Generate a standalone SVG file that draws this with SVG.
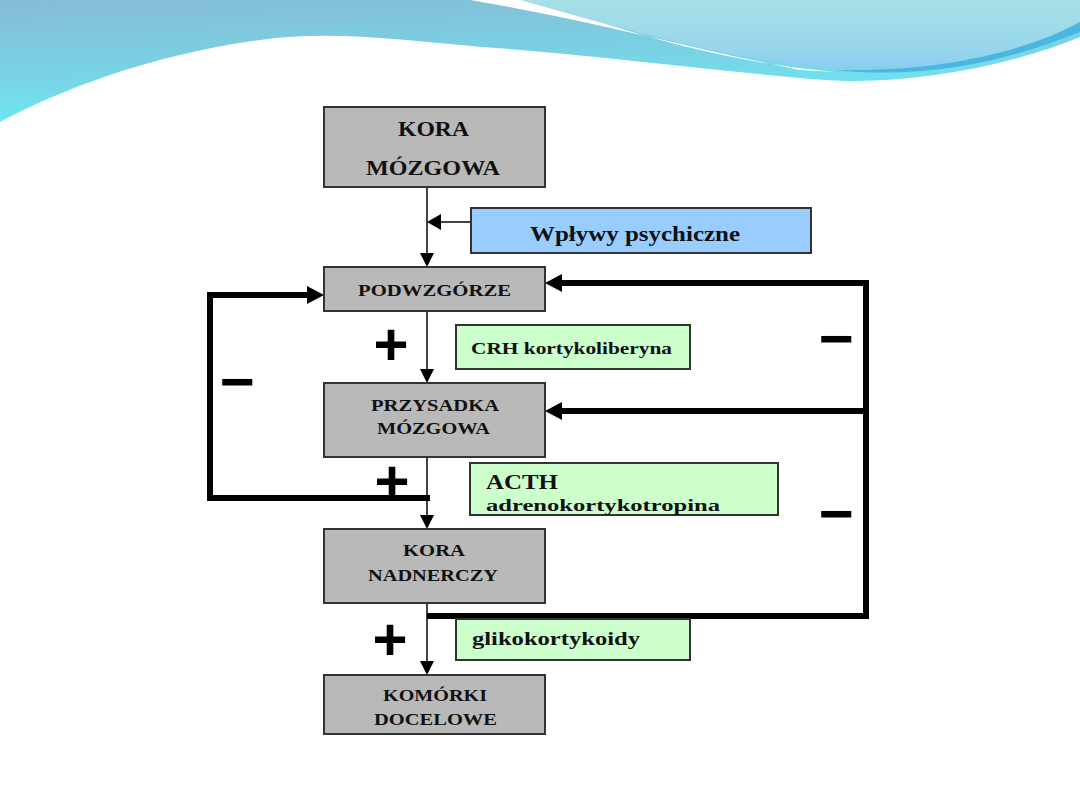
<svg xmlns="http://www.w3.org/2000/svg" width="1080" height="810" viewBox="0 0 1080 810">
<defs>
<linearGradient id="wave1" x1="0" y1="0" x2="0.3" y2="1">
<stop offset="0" stop-color="#86bcd6"/>
<stop offset="0.6" stop-color="#78d4e6"/>
<stop offset="1" stop-color="#6ceaf4"/>
</linearGradient>
<linearGradient id="wave2" x1="0" y1="0" x2="0" y2="1">
<stop offset="0" stop-color="#a6e0e6"/>
<stop offset="0.7" stop-color="#98d6ec"/>
<stop offset="1" stop-color="#88cdef"/>
</linearGradient>
<style>
.box{fill:#b9b9b9;stroke:#333;stroke-width:2}
.blue{fill:#99ccff;stroke:#333;stroke-width:2}
.green{fill:#ccffcc;stroke:#333;stroke-width:2}
.t{font-family:"Liberation Serif",serif;font-weight:bold;fill:#111}
.thin{stroke:#444;stroke-width:2;fill:none}
.thick{stroke:#000;stroke-width:6;fill:none}
.head{fill:#000}
.sym{font-family:"Liberation Sans",sans-serif;font-weight:bold;font-size:60px;fill:#000;text-anchor:middle}
</style>
</defs>
<rect width="1080" height="810" fill="#fff"/>
<g id="background">
<path d="M0,0 L1080,0 L1080,37 C1000,70 900,85 826,80 C720,72 600,55 482,47 C400,40 330,30 260,40 C150,55 60,90 0,122 Z" fill="url(#wave1)"/>
<path d="M470,0 L535,0 C620,30 720,62 835,72 L800,70 C690,48 580,18 470,0 Z" fill="#fff"/>
<path d="M520,0 L1080,0 L1080,22 C1020,55 930,72 835,70 C720,58 620,28 520,0 Z" fill="url(#wave2)"/>
<path d="M1080,22 C1020,55 930,72 835,70 C930,80 1010,60 1080,32 Z" fill="#4bb7e0"/>
</g>
<g id="connectors">
<line class="thin" x1="427" y1="187" x2="427" y2="256"/>
<polygon class="head" points="420,253 434,253 427,267"/>
<line class="thin" x1="471" y1="222" x2="438" y2="222"/>
<polygon class="head" points="427,222 441,214 441,230"/>
<line class="thin" x1="427" y1="311" x2="427" y2="372"/>
<polygon class="head" points="420,369 434,369 427,383"/>
<line class="thin" x1="427" y1="457" x2="427" y2="518"/>
<polygon class="head" points="420,515 434,515 427,529"/>
<line class="thin" x1="427" y1="603" x2="427" y2="664"/>
<polygon class="head" points="420,661 434,661 427,675"/>
<polyline class="thick" points="866,619 866,283 558,283"/>
<polygon class="head" points="545,283 562,274 562,292"/>
<line class="thick" x1="866" y1="411" x2="558" y2="411"/>
<polygon class="head" points="545,411 562,402 562,420"/>
<line class="thick" x1="427" y1="616" x2="869" y2="616"/>
<polyline class="thick" points="430,498 210,498 210,295 311,295"/>
<polygon class="head" points="324,295 307,286 307,304"/>
</g>
<g id="signs">
<text class="sym" x="391" y="365">+</text>
<text class="sym" x="392" y="502">+</text>
<text class="sym" x="390" y="660">+</text>
<text class="sym" x="237" y="402">−</text>
<text class="sym" x="836" y="359">−</text>
<text class="sym" x="836" y="534">−</text>
</g>
<g id="kora-mozgowa">
<rect class="box" x="324" y="107" width="221" height="80"/>
<text class="t" x="398" y="136" font-size="21" textLength="71" lengthAdjust="spacingAndGlyphs">KORA</text>
<text class="t" x="366" y="175" font-size="21" textLength="134" lengthAdjust="spacingAndGlyphs">MÓZGOWA</text>
</g>
<g id="wplywy">
<rect class="blue" x="471" y="208" width="340" height="45"/>
<text class="t" x="530" y="241" font-size="21" textLength="210" lengthAdjust="spacingAndGlyphs">Wpływy  psychiczne</text>
</g>
<g id="podwzgorze">
<rect class="box" x="324" y="267" width="221" height="44"/>
<text class="t" x="358" y="296" font-size="17" textLength="153" lengthAdjust="spacingAndGlyphs">PODWZGÓRZE</text>
</g>
<g id="crh">
<rect class="green" x="456" y="325" width="234" height="44"/>
<text class="t" x="471" y="354" font-size="17" textLength="201" lengthAdjust="spacingAndGlyphs">CRH  kortykoliberyna</text>
</g>
<g id="przysadka">
<rect class="box" x="324" y="383" width="221" height="74"/>
<text class="t" x="371" y="411" font-size="16" textLength="128" lengthAdjust="spacingAndGlyphs">PRZYSADKA</text>
<text class="t" x="377" y="434" font-size="16" textLength="113" lengthAdjust="spacingAndGlyphs">MÓZGOWA</text>
</g>
<g id="acth">
<rect class="green" x="470" y="463" width="308" height="52"/>
<text class="t" x="486" y="489" font-size="20" textLength="72" lengthAdjust="spacingAndGlyphs">ACTH</text>
<text class="t" x="486" y="511" font-size="17" textLength="234" lengthAdjust="spacingAndGlyphs">adrenokortykotropina</text>
</g>
<g id="kora-nadnerczy">
<rect class="box" x="324" y="529" width="221" height="74"/>
<text class="t" x="403" y="556" font-size="17" textLength="62" lengthAdjust="spacingAndGlyphs">KORA</text>
<text class="t" x="368" y="581" font-size="17" textLength="130" lengthAdjust="spacingAndGlyphs">NADNERCZY</text>
</g>
<g id="glikokortykoidy">
<rect class="green" x="456" y="619" width="234" height="41"/>
<text class="t" x="472" y="645" font-size="19" textLength="168" lengthAdjust="spacingAndGlyphs">glikokortykoidy</text>
</g>
<g id="komorki">
<rect class="box" x="324" y="675" width="221" height="59"/>
<text class="t" x="383" y="701" font-size="16" textLength="104" lengthAdjust="spacingAndGlyphs">KOMÓRKI</text>
<text class="t" x="374" y="725" font-size="16" textLength="123" lengthAdjust="spacingAndGlyphs">DOCELOWE</text>
</g>
</svg>
